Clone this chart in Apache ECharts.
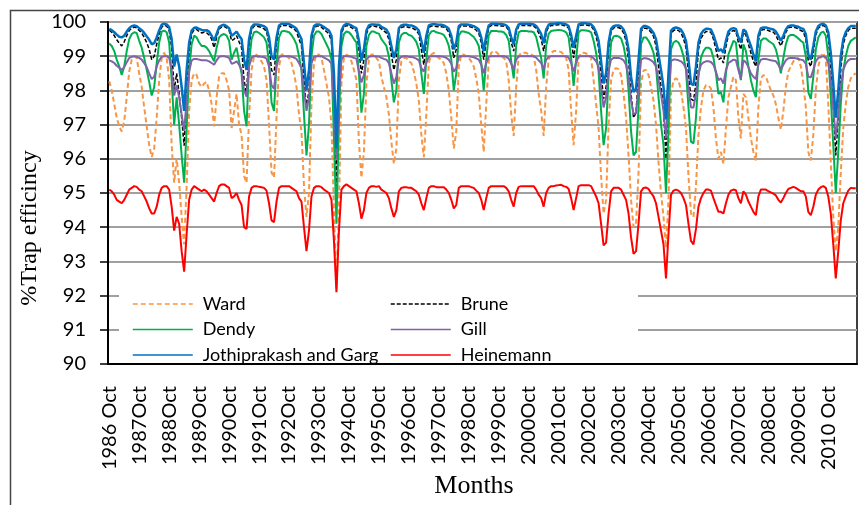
<!DOCTYPE html>
<html>
<head>
<meta charset="utf-8">
<script src="https://cdn.jsdelivr.net/npm/echarts/dist/echarts.min.js"></script>
<style>
  html, body { margin: 0; padding: 0; background: #fff; }
  #chart { width: 859px; height: 505px; }
</style>
</head>
<body>
<div id="chart"></div>
<script>
// year labels shown on the x axis (one per October)
var yearLabels = ['1986 Oct', '1987Oct', '1988Oct', '1989Oct', '1990Oct', '1991Oct', '1992Oct', '1993Oct',
  '1994Oct', '1995Oct', '1996Oct', '1997Oct', '1998Oct', '1999Oct', '2000Oct', '2001Oct', '2002Oct',
  '2003Oct', '2004Oct', '2005Oct', '2006Oct', '2007Oct', '2008Oct', '2009Oct', '2010 Oct'];
var monthNames = ['Oct', 'Nov', 'Dec', 'Jan', 'Feb', 'Mar', 'Apr', 'May', 'Jun', 'Jul', 'Aug', 'Sep'];

// monthly trap efficiency (%), Oct 1986 - Sep 2011, one row per water year
var ward = [
  98.27, 98.0, 97.6, 97.2, 96.95, 96.8, 97.1, 97.8, 98.55, 98.9, 99.0, 98.95,
  98.5, 98.1, 97.5, 96.95, 96.4, 96.05, 96.3, 97.2, 98.3, 98.95, 99.1, 98.95,
  98.3, 96.4, 95.3, 96.0, 95.3, 94.3, 93.5, 95.2, 97.4, 98.3, 98.5, 98.45,
  98.2, 98.1, 98.2, 98.25, 98.0, 97.6, 96.95, 97.8, 98.4, 98.5, 98.5, 98.3,
  98.0, 96.9, 97.4, 97.9, 97.0, 96.7, 95.5, 95.3, 97.2, 98.6, 99.0, 99.05,
  98.95, 98.85, 98.7, 98.3, 97.0, 95.6, 95.45, 97.2, 98.7, 99.05, 99.05, 99.0,
  98.95, 98.8, 98.5, 98.1, 97.3, 96.8, 95.2, 94.3, 95.0, 97.6, 98.8, 99.05,
  99.05, 98.95, 98.6, 98.2, 97.8, 97.0, 94.5, 92.2, 94.6, 98.2, 98.95, 99.05,
  99.0, 98.85, 98.6, 98.3, 96.5, 95.45, 96.2, 98.2, 98.9, 99.05, 99.05, 98.95,
  98.85, 98.4, 98.1, 97.8, 97.3, 96.5, 95.85, 96.3, 98.3, 98.85, 98.95, 98.95,
  98.85, 98.8, 98.55, 98.2, 97.7, 96.7, 96.05, 97.3, 98.8, 99.05, 99.1, 99.0,
  98.95, 98.9, 98.8, 98.5, 98.0, 97.2, 96.3, 96.8, 98.7, 99.05, 99.05, 99.0,
  98.95, 98.85, 98.7, 98.35, 97.9, 97.0, 96.2, 97.6, 98.85, 99.1, 99.15, 99.12,
  99.05, 99.0, 98.95, 98.85, 98.3, 97.3, 96.67, 98.1, 99.0, 99.1, 99.1, 99.1,
  99.05, 99.05, 99.0, 98.6, 97.9, 97.4, 96.67, 98.1, 98.9, 99.1, 99.15, 99.15,
  99.15, 99.12, 99.05, 98.95, 98.6, 97.4, 96.4, 97.4, 98.95, 99.1, 99.1, 99.08,
  99.05, 98.95, 98.3, 97.6, 96.9, 95.5, 94.4, 94.8, 97.0, 98.3, 98.6, 98.65,
  98.62, 98.45, 97.9, 97.2, 96.1, 94.8, 94.0, 94.1, 95.6, 98.2, 98.58, 98.6,
  98.45, 98.1, 97.7, 97.0, 95.9, 95.0, 94.3, 93.4, 94.8, 97.9, 98.3, 98.35,
  98.3, 98.0, 97.5, 96.9, 95.5, 94.4, 94.3, 95.2, 96.7, 97.5, 98.0, 98.15,
  98.15, 98.05, 97.5, 96.6, 96.0, 96.2, 95.85, 96.9, 97.8, 98.1, 98.4, 98.3,
  97.2, 96.6, 97.9, 97.8, 97.2, 96.6, 96.2, 95.95, 97.5, 98.35, 98.45, 98.4,
  98.2, 98.0, 97.85, 97.6, 97.2, 96.85, 97.4, 98.1, 98.55, 98.7, 98.85, 98.9,
  98.95, 98.7, 98.2, 97.5, 96.2, 95.95, 96.7, 98.0, 98.7, 99.0, 99.1, 98.9,
  97.6, 95.9, 94.3, 93.3, 94.0, 95.6, 96.9, 97.6, 98.1, 98.35, 98.45, 98.5
];
var brune = [
  99.76, 99.7, 99.6, 99.48, 99.38, 99.3, 99.42, 99.6, 99.75, 99.82, 99.85, 99.83,
  99.75, 99.68, 99.55, 99.4, 99.2, 98.9, 99.0, 99.35, 99.65, 99.85, 99.9, 99.88,
  99.75, 99.25, 98.0, 98.5, 97.9, 97.2, 96.38, 97.8, 99.1, 99.65, 99.78, 99.78,
  99.72, 99.68, 99.7, 99.68, 99.62, 99.5, 99.25, 99.55, 99.8, 99.85, 99.87, 99.83,
  99.76, 99.45, 99.5, 99.6, 99.42, 99.25, 98.3, 97.9, 99.3, 99.78, 99.88, 99.88,
  99.86, 99.84, 99.8, 99.73, 99.35, 98.6, 98.45, 99.35, 99.83, 99.9, 99.9, 99.9,
  99.88, 99.84, 99.8, 99.72, 99.5, 99.3, 98.3, 97.5, 98.0, 99.45, 99.82, 99.88,
  99.88, 99.85, 99.78, 99.72, 99.65, 99.45, 97.5, 95.2, 98.0, 99.66, 99.85, 99.9,
  99.88, 99.84, 99.78, 99.74, 99.2, 98.5, 98.9, 99.65, 99.84, 99.88, 99.88, 99.86,
  99.86, 99.8, 99.74, 99.68, 99.5, 99.05, 98.6, 98.9, 99.74, 99.84, 99.86, 99.86,
  99.84, 99.84, 99.8, 99.75, 99.65, 99.2, 98.75, 99.45, 99.84, 99.88, 99.88, 99.87,
  99.86, 99.86, 99.85, 99.8, 99.7, 99.45, 98.95, 99.2, 99.83, 99.88, 99.88, 99.88,
  99.87, 99.85, 99.82, 99.76, 99.68, 99.4, 98.9, 99.45, 99.84, 99.9, 99.9, 99.9,
  99.89, 99.88, 99.88, 99.85, 99.76, 99.4, 99.15, 99.7, 99.88, 99.9, 99.9, 99.9,
  99.9, 99.89, 99.88, 99.82, 99.68, 99.5, 99.15, 99.7, 99.86, 99.9, 99.9, 99.91,
  99.92, 99.92, 99.9, 99.88, 99.82, 99.48, 98.95, 99.45, 99.88, 99.91, 99.91, 99.91,
  99.9, 99.88, 99.78, 99.58, 99.25, 98.5, 97.75, 98.1, 99.2, 99.72, 99.83, 99.84,
  99.84, 99.8, 99.68, 99.45, 98.9, 97.9, 97.2, 97.35, 98.5, 99.72, 99.82, 99.82,
  99.78, 99.7, 99.58, 99.3, 98.7, 98.1, 97.5, 96.0, 97.9, 99.65, 99.75, 99.78,
  99.75, 99.68, 99.52, 99.25, 98.5, 97.75, 97.7, 98.2, 99.2, 99.52, 99.65, 99.72,
  99.72, 99.7, 99.5, 99.2, 98.9, 98.95, 98.8, 99.28, 99.62, 99.72, 99.75, 99.72,
  99.4, 99.2, 99.7, 99.62, 99.35, 99.1, 98.85, 98.7, 99.45, 99.75, 99.78, 99.78,
  99.75, 99.72, 99.7, 99.62, 99.45, 99.3, 99.48, 99.7, 99.83, 99.85, 99.85, 99.83,
  99.8, 99.75, 99.72, 99.5, 98.85, 98.7, 99.1, 99.62, 99.82, 99.88, 99.9, 99.85,
  99.55, 98.7, 97.5, 96.1, 97.2, 98.6, 99.35, 99.6, 99.75, 99.82, 99.82, 99.82
];
var dendy = [
  99.37, 99.3, 99.15, 98.9, 98.7, 98.45, 98.7, 99.15, 99.5, 99.65, 99.7, 99.68,
  99.45, 99.25, 98.95, 98.6, 98.25, 97.85, 98.1, 98.8, 99.4, 99.72, 99.75, 99.7,
  99.4, 98.3, 97.0, 97.8, 97.0, 96.1, 95.3, 96.9, 98.6, 99.35, 99.6, 99.55,
  99.4, 99.3, 99.3, 99.25, 99.15, 99.0, 98.85, 99.25, 99.55, 99.62, 99.65, 99.6,
  99.45, 98.9, 99.1, 99.25, 98.85, 98.5, 97.4, 96.95, 98.8, 99.5, 99.7, 99.72,
  99.68, 99.62, 99.55, 99.4, 98.8, 97.65, 97.4, 98.8, 99.55, 99.72, 99.74, 99.72,
  99.7, 99.62, 99.5, 99.35, 99.0, 98.6, 97.3, 96.1, 97.0, 99.0, 99.6, 99.72,
  99.72, 99.65, 99.5, 99.35, 99.2, 98.9, 96.6, 94.1, 97.1, 99.3, 99.65, 99.72,
  99.7, 99.62, 99.5, 99.4, 98.5, 97.35, 97.9, 99.3, 99.62, 99.72, 99.72, 99.68,
  99.66, 99.5, 99.4, 99.3, 99.0, 98.3, 97.65, 98.0, 99.4, 99.62, 99.68, 99.68,
  99.62, 99.6, 99.52, 99.42, 99.2, 98.5, 97.9, 98.9, 99.62, 99.72, 99.74, 99.7,
  99.68, 99.66, 99.62, 99.5, 99.3, 98.9, 98.0, 98.5, 99.6, 99.72, 99.72, 99.7,
  99.68, 99.62, 99.56, 99.45, 99.3, 98.8, 98.0, 98.9, 99.62, 99.74, 99.74, 99.74,
  99.72, 99.72, 99.7, 99.62, 99.45, 98.85, 98.35, 99.3, 99.7, 99.74, 99.74, 99.74,
  99.72, 99.72, 99.7, 99.56, 99.25, 98.95, 98.35, 99.3, 99.65, 99.74, 99.75, 99.76,
  99.77, 99.76, 99.74, 99.7, 99.55, 98.95, 98.13, 98.9, 99.7, 99.76, 99.76, 99.75,
  99.74, 99.7, 99.45, 99.1, 98.55, 97.4, 96.4, 96.9, 98.4, 99.4, 99.58, 99.6,
  99.58, 99.52, 99.3, 98.9, 98.0, 96.8, 96.1, 96.2, 97.5, 99.35, 99.55, 99.55,
  99.45, 99.3, 99.1, 98.7, 97.8, 97.0, 96.4, 95.0, 96.8, 99.2, 99.4, 99.45,
  99.4, 99.25, 99.0, 98.6, 97.5, 96.5, 96.45, 97.2, 98.4, 98.95, 99.15, 99.25,
  99.25, 99.2, 98.95, 98.5, 97.9, 97.95, 97.65, 98.5, 99.05, 99.25, 99.45, 99.4,
  98.7, 98.3, 99.35, 99.15, 98.7, 98.3, 98.0, 97.8, 98.9, 99.45, 99.52, 99.52,
  99.45, 99.4, 99.35, 99.2, 98.9, 98.5, 98.95, 99.35, 99.58, 99.62, 99.62, 99.58,
  99.52, 99.45, 99.4, 99.0, 97.95, 97.75, 98.4, 99.2, 99.55, 99.68, 99.72, 99.6,
  99.0, 97.8, 96.4, 95.0, 96.2, 97.6, 98.6, 99.0, 99.3, 99.45, 99.5, 99.55
];
var gill = [
  98.88, 98.85, 98.8, 98.72, 98.66, 98.6, 98.68, 98.82, 98.95, 98.98, 99.0, 98.98,
  98.95, 98.9, 98.8, 98.68, 98.5, 98.33, 98.4, 98.7, 98.88, 98.98, 99.0, 99.0,
  98.95, 98.6, 97.85, 98.15, 97.8, 97.3, 96.82, 97.7, 98.55, 98.88, 98.92, 98.92,
  98.9, 98.88, 98.88, 98.88, 98.85, 98.8, 98.75, 98.88, 98.98, 99.0, 99.0, 98.98,
  98.95, 98.78, 98.8, 98.85, 98.75, 98.6, 98.0, 97.82, 98.7, 98.95, 99.0, 99.0,
  98.99, 98.98, 98.97, 98.93, 98.7, 98.15, 98.05, 98.7, 98.97, 99.0, 99.0, 99.0,
  99.0, 98.98, 98.96, 98.92, 98.8, 98.65, 98.0, 97.4, 97.8, 98.8, 98.98, 99.0,
  99.0, 99.0, 98.96, 98.92, 98.88, 98.78, 97.6, 96.0, 97.8, 98.9, 99.0, 99.0,
  99.0, 98.98, 98.95, 98.93, 98.55, 98.23, 98.45, 98.9, 98.98, 99.0, 99.0, 98.99,
  98.99, 98.95, 98.92, 98.9, 98.8, 98.5, 98.2, 98.4, 98.92, 98.98, 99.0, 99.0,
  98.98, 98.98, 98.96, 98.93, 98.88, 98.65, 98.55, 98.8, 98.98, 99.0, 99.0, 99.0,
  99.0, 98.99, 98.98, 98.95, 98.9, 98.78, 98.55, 98.65, 98.98, 99.0, 99.0, 99.0,
  99.0, 98.98, 98.97, 98.94, 98.9, 98.75, 98.5, 98.8, 98.98, 99.0, 99.0, 99.0,
  99.0, 99.0, 99.0, 98.98, 98.93, 98.78, 98.62, 98.9, 99.0, 99.0, 99.0, 99.0,
  99.0, 99.0, 99.0, 98.96, 98.88, 98.8, 98.62, 98.9, 98.98, 99.0, 99.0, 99.0,
  99.0, 99.0, 99.0, 99.0, 98.96, 98.8, 98.55, 98.8, 99.0, 99.0, 99.0, 99.0,
  99.0, 99.0, 98.94, 98.85, 98.7, 98.1, 97.5, 97.8, 98.6, 98.9, 98.95, 98.95,
  98.95, 98.93, 98.88, 98.75, 98.4, 97.7, 97.3, 97.35, 98.1, 98.9, 98.94, 98.94,
  98.92, 98.88, 98.82, 98.7, 98.3, 97.9, 97.4, 96.6, 97.8, 98.86, 98.9, 98.9,
  98.88, 98.85, 98.78, 98.65, 98.1, 97.5, 97.5, 97.9, 98.5, 98.75, 98.82, 98.85,
  98.85, 98.83, 98.75, 98.55, 98.3, 98.35, 98.2, 98.6, 98.8, 98.85, 98.9, 98.88,
  98.6, 98.35, 98.88, 98.82, 98.68, 98.5, 98.4, 98.33, 98.75, 98.9, 98.92, 98.92,
  98.9, 98.88, 98.87, 98.85, 98.75, 98.6, 98.75, 98.88, 98.94, 98.95, 98.95, 98.94,
  98.92, 98.9, 98.88, 98.78, 98.4, 98.38, 98.6, 98.85, 98.95, 98.98, 99.0, 98.97,
  98.8, 98.3, 97.5, 96.6, 97.3, 98.1, 98.6, 98.78, 98.88, 98.92, 98.92, 98.92
];
var jothiprakash = [
  99.8, 99.76, 99.7, 99.63, 99.57, 99.55, 99.6, 99.72, 99.82, 99.88, 99.9, 99.88,
  99.82, 99.76, 99.68, 99.58, 99.48, 99.35, 99.38, 99.55, 99.75, 99.92, 99.95, 99.93,
  99.85, 99.5, 98.7, 99.05, 98.7, 98.1, 97.4, 98.6, 99.4, 99.75, 99.83, 99.84,
  99.8, 99.77, 99.75, 99.76, 99.72, 99.6, 99.45, 99.65, 99.85, 99.9, 99.92, 99.88,
  99.82, 99.6, 99.65, 99.72, 99.6, 99.5, 98.9, 98.6, 99.5, 99.85, 99.93, 99.93,
  99.92, 99.9, 99.88, 99.82, 99.55, 99.0, 98.9, 99.55, 99.9, 99.95, 99.95, 99.95,
  99.94, 99.9, 99.86, 99.8, 99.65, 99.5, 98.8, 98.0, 98.6, 99.6, 99.88, 99.93,
  99.93, 99.9, 99.85, 99.8, 99.75, 99.6, 98.5, 96.3, 98.7, 99.75, 99.9, 99.95,
  99.93, 99.9, 99.85, 99.82, 99.45, 98.87, 99.2, 99.75, 99.9, 99.93, 99.93, 99.92,
  99.92, 99.86, 99.82, 99.78, 99.65, 99.3, 98.95, 99.2, 99.82, 99.9, 99.92, 99.92,
  99.9, 99.9, 99.87, 99.83, 99.75, 99.45, 99.1, 99.6, 99.9, 99.93, 99.94, 99.93,
  99.92, 99.92, 99.9, 99.86, 99.8, 99.6, 99.2, 99.4, 99.88, 99.93, 99.93, 99.93,
  99.92, 99.9, 99.88, 99.84, 99.78, 99.55, 99.15, 99.6, 99.9, 99.95, 99.95, 99.95,
  99.94, 99.94, 99.93, 99.9, 99.83, 99.55, 99.35, 99.78, 99.93, 99.95, 99.95, 99.95,
  99.95, 99.94, 99.93, 99.88, 99.78, 99.65, 99.38, 99.78, 99.92, 99.95, 99.95, 99.96,
  99.96, 99.96, 99.95, 99.93, 99.88, 99.62, 99.25, 99.6, 99.93, 99.96, 99.96, 99.96,
  99.95, 99.93, 99.85, 99.7, 99.45, 98.85, 98.2, 98.5, 99.4, 99.8, 99.88, 99.9,
  99.9, 99.87, 99.78, 99.6, 99.2, 98.4, 97.95, 98.05, 98.9, 99.8, 99.88, 99.88,
  99.85, 99.78, 99.68, 99.5, 99.05, 98.6, 98.1, 97.15, 98.5, 99.75, 99.82, 99.84,
  99.82, 99.78, 99.65, 99.45, 98.9, 98.2, 98.15, 98.7, 99.4, 99.65, 99.75, 99.8,
  99.8, 99.78, 99.62, 99.4, 99.15, 99.2, 99.1, 99.45, 99.72, 99.8, 99.82, 99.8,
  99.55, 99.4, 99.78, 99.72, 99.5, 99.3, 99.05, 98.85, 99.6, 99.82, 99.84, 99.84,
  99.82, 99.8, 99.78, 99.72, 99.6, 99.45, 99.6, 99.78, 99.88, 99.9, 99.9, 99.88,
  99.86, 99.82, 99.8, 99.65, 99.05, 98.9, 99.3, 99.72, 99.88, 99.93, 99.95, 99.9,
  99.7, 99.1, 98.2, 97.2, 98.0, 99.0, 99.5, 99.7, 99.82, 99.88, 99.88, 99.88
];
var heinemann = [
  95.1, 95.05, 94.95, 94.8, 94.75, 94.7, 94.8, 94.95, 95.1, 95.15, 95.2, 95.18,
  95.1, 95.05, 94.9, 94.75, 94.55, 94.4, 94.4, 94.6, 94.95, 95.15, 95.2, 95.2,
  95.1, 94.6, 93.9, 94.3, 94.1, 93.3, 92.7, 93.8, 94.8, 95.1, 95.2, 95.15,
  95.1, 95.05, 95.1, 95.05, 94.95, 94.85, 94.75, 95.0, 95.2, 95.25, 95.25, 95.2,
  95.15, 94.85, 94.9, 95.0, 94.8, 94.65, 94.0, 93.95, 94.9, 95.15, 95.2, 95.2,
  95.18, 95.17, 95.15, 95.07, 94.7, 94.2, 94.15, 94.75, 95.15, 95.2, 95.2, 95.2,
  95.2, 95.15, 95.1, 95.05, 94.85, 94.75, 94.0, 93.3, 93.9, 94.9, 95.15, 95.2,
  95.2, 95.17, 95.1, 95.05, 95.0, 94.8, 93.6, 92.1, 93.9, 95.1, 95.2, 95.25,
  95.2, 95.15, 95.1, 95.05, 94.7, 94.25, 94.5, 95.0, 95.15, 95.2, 95.2, 95.18,
  95.2, 95.1, 95.05, 95.0, 94.85, 94.55, 94.3, 94.5, 95.05, 95.15, 95.17, 95.17,
  95.15, 95.15, 95.1, 95.05, 94.95, 94.7, 94.5, 94.85, 95.15, 95.2, 95.2, 95.17,
  95.17, 95.17, 95.17, 95.1, 95.0, 94.8, 94.55, 94.65, 95.15, 95.2, 95.2, 95.2,
  95.2, 95.17, 95.15, 95.07, 95.0, 94.8, 94.5, 94.85, 95.15, 95.2, 95.2, 95.2,
  95.2, 95.2, 95.2, 95.15, 95.05, 94.8, 94.6, 95.0, 95.18, 95.2, 95.2, 95.2,
  95.2, 95.2, 95.2, 95.1, 94.95, 94.85, 94.6, 95.0, 95.15, 95.2, 95.2, 95.22,
  95.23, 95.24, 95.2, 95.18, 95.12, 94.85, 94.5, 94.85, 95.2, 95.23, 95.23, 95.23,
  95.23, 95.2, 95.05, 94.9, 94.7, 94.1, 93.47, 93.55, 94.4, 95.05, 95.15, 95.15,
  95.15, 95.1, 94.95, 94.8, 94.4, 93.7, 93.22, 93.3, 94.1, 95.05, 95.15, 95.16,
  95.12, 95.0, 94.9, 94.7, 94.3, 93.9, 93.5, 92.5, 93.8, 94.95, 95.07, 95.1,
  95.07, 95.0, 94.85, 94.65, 94.1, 93.6, 93.5, 93.95, 94.6, 94.85, 95.0, 95.1,
  95.1, 95.07, 94.85, 94.65, 94.45, 94.45, 94.4, 94.7, 94.95, 95.07, 95.1, 95.08,
  94.85, 94.7, 95.05, 94.95, 94.75, 94.6, 94.45, 94.35, 94.9, 95.1, 95.1, 95.1,
  95.05, 95.02, 94.98, 94.93, 94.8, 94.72, 94.85, 95.0, 95.12, 95.15, 95.18, 95.15,
  95.1, 95.05, 95.05, 94.9, 94.45, 94.35, 94.6, 94.95, 95.1, 95.17, 95.2, 95.15,
  94.9, 94.4, 93.5, 92.5, 93.3, 94.2, 94.7, 94.9, 95.07, 95.15, 95.14, 95.14
];

var months = [];
for (var i = 0; i < ward.length; i++) {
  var y = Math.floor(i / 12), m = i % 12;
  months.push(m === 0 ? yearLabels[y] : (1986 + y + (m >= 3 ? 1 : 0)) + ' ' + monthNames[m]);
}

var chart = echarts.init(document.getElementById('chart'));

function line(name, data, color, width, type) {
  return {
    name: name, type: 'line', data: data,
    symbol: 'none', showSymbol: false, smooth: false,
    lineStyle: { color: color, width: width, type: type || 'solid' },
    itemStyle: { color: color }
  };
}

// legend: line sample only, no marker
var legendBase = {
  orient: 'vertical', top: 295, padding: 0,
  itemWidth: 60, itemHeight: 14, itemGap: 7.5,
  itemStyle: { opacity: 0 },
  lineStyle: { width: 1.5 },
  textStyle: { fontFamily: 'Lato', fontSize: 18, color: '#000', padding: [0, 0, 0, 5] }
};

var option = {
  animation: false,
  backgroundColor: '#fff',
  grid: { left: 108, right: 2, top: 22, bottom: 141, show: true, borderColor: '#000', borderWidth: 1.5 },
  graphic: [
    { type: 'rect', left: 8, top: 8, shape: { width: 900, height: 600 }, style: { fill: 'none', stroke: '#444', lineWidth: 1.5 }, z: 0 },
    { type: 'rect', shape: { x: 119, y: 287, width: 519, height: 74 }, style: { fill: '#fff' }, z: 1 },
    { type: 'text', x: 30, y: 228, rotation: Math.PI / 2,
      style: { text: '%Trap efficincy', font: '24px "Liberation Serif"', fill: '#000', textAlign: 'center', textVerticalAlign: 'middle' } },
    { type: 'text', x: 474, y: 486,
      style: { text: 'Months', font: '26px "Liberation Serif"', fill: '#000', textAlign: 'center', textVerticalAlign: 'middle' } }
  ],
  legend: [
    Object.assign({}, legendBase, { data: ['Ward', 'Dendy', 'Jothiprakash and Garg'], left: 132 }),
    Object.assign({}, legendBase, { data: ['Brune', 'Gill', 'Heinemann'], left: 390 })
  ],
  xAxis: {
    type: 'category', data: months, boundaryGap: true,
    axisLine: { lineStyle: { color: '#000', width: 2 } },
    axisTick: { interval: 9, length: 7, lineStyle: { color: '#000', width: 1.5 } },
    axisLabel: { interval: 11, rotate: 90, margin: 22, fontFamily: 'Lato', fontSize: 20, color: '#000' },
    splitLine: { show: false }
  },
  yAxis: {
    type: 'value', min: 90, max: 100, interval: 1,
    axisLine: { show: true, lineStyle: { color: '#000', width: 2 } },
    axisTick: { show: true, length: 8, lineStyle: { color: '#000', width: 1.5 } },
    axisLabel: { margin: 22, fontFamily: 'Lato', fontSize: 20, color: '#000' },
    splitLine: { lineStyle: { color: '#a0a0a0', width: 2 } }
  },
  series: [
    line('Ward', ward, '#f79646', 2, [5, 3]),
    line('Brune', brune, '#000000', 1.5, [4, 2]),
    line('Dendy', dendy, '#00b050', 2),
    line('Gill', gill, '#7f62a8', 2),
    line('Jothiprakash and Garg', jothiprakash, '#0070c0', 2.5),
    line('Heinemann', heinemann, '#ff0000', 2)
  ]
};
chart.setOption(option);
</script>
</body>
</html>
